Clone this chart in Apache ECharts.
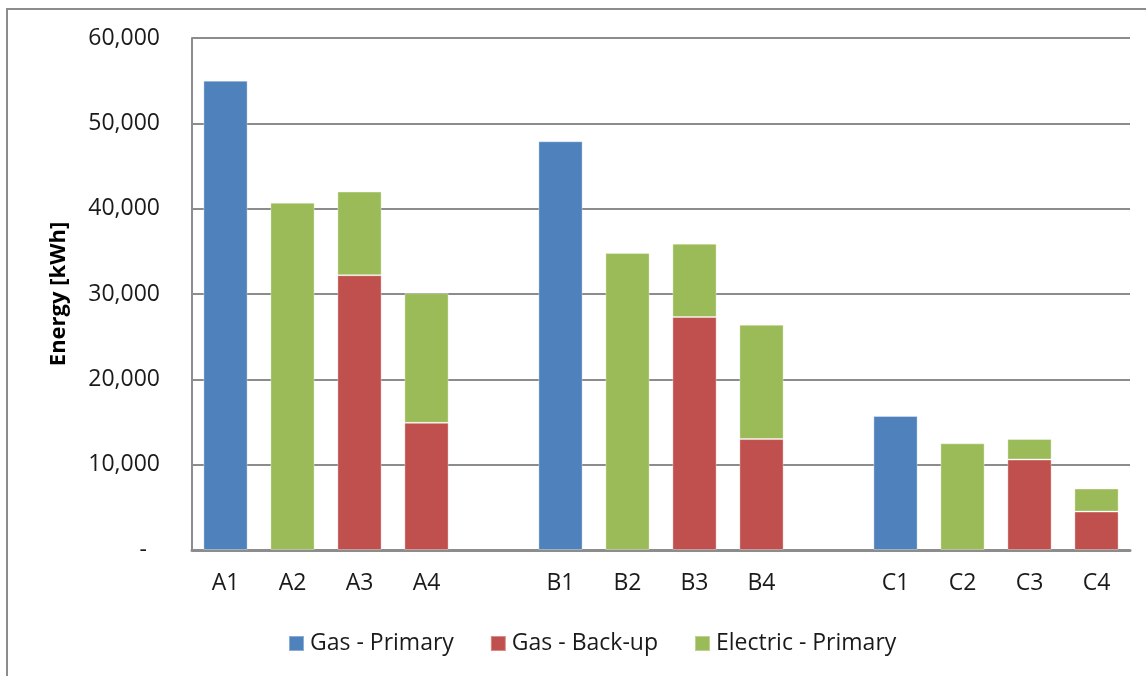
<!DOCTYPE html>
<html>
<head>
<meta charset="utf-8">
<script src="https://cdn.jsdelivr.net/npm/echarts@6/dist/echarts.min.js"></script>
<style>
  html, body { margin: 0; padding: 0; background: #fff; }
  #chart { width: 1146px; height: 676px; }
</style>
</head>
<body>
<div id="chart"></div>
<script>
// Building groups A, B, C with four system variants each; blank slots separate the groups.
const categories = ['A1', 'A2', 'A3', 'A4', '', 'B1', 'B2', 'B3', 'B4', ' ', 'C1', 'C2', 'C3', 'C4'];
const gasPrimary = [55000, null, null, null, null, 47900, null, null, null, null, 15700, null, null, null];
const gasBackup  = [null, null, 32200, 14900, null, null, null, 27300, 13000, null, null, null, 10600, 4500];
const electric   = [null, 40700, 9800, 15200, null, null, 34800, 8600, 13400, null, null, 12500, 2400, 2700];
const yTicks = { min: 0, max: 60000, interval: 10000 };

const FONT = '"Open Sans", "Noto Sans", sans-serif';
const GRID_GREY = '#8c8c8c';
const TEXT = '#1a1a1a';

const chart = echarts.init(document.getElementById('chart'), null, { renderer: 'canvas' });

function barSeries(name, data, color) {
  return {
    name: name,
    type: 'bar',
    stack: 'energy',
    barWidth: '66%',
    data: data,
    itemStyle: { color: color, borderColor: 'rgba(255,255,255,0.35)', borderWidth: 1 },
    emphasis: { disabled: true }
  };
}

chart.setOption({
  animation: false,
  textStyle: { fontFamily: FONT },
  graphic: [{
    type: 'rect',
    shape: { x: 7, y: 9, width: 1300, height: 800 },
    style: { fill: 'none', stroke: GRID_GREY, lineWidth: 2 },
    silent: true
  }],
  grid: { left: 192, top: 38, right: 16, bottom: 126, containLabel: false },
  legend: {
    left: 283,
    top: 627,
    itemWidth: 15,
    itemHeight: 15,
    itemGap: 36,
    icon: 'rect',
    textStyle: { fontFamily: FONT, fontSize: 23, color: TEXT, padding: [0, 0, 0, 1] },
    data: ['Gas - Primary', 'Gas - Back-up', 'Electric - Primary']
  },
  xAxis: {
    type: 'category',
    data: categories,
    axisTick: { show: false },
    axisLine: { lineStyle: { color: GRID_GREY, width: 3 } },
    axisLabel: { fontFamily: FONT, fontSize: 23, color: TEXT, margin: 22 }
  },
  yAxis: {
    type: 'value',
    min: yTicks.min,
    max: yTicks.max,
    interval: yTicks.interval,
    name: 'Energy [kWh]',
    nameLocation: 'middle',
    nameRotate: 90,
    nameGap: 122,
    nameTextStyle: { fontFamily: FONT, fontSize: 22, fontWeight: 'bold', color: '#000' },
    axisLine: { show: true, lineStyle: { color: GRID_GREY, width: 2 } },
    axisTick: { show: false },
    splitLine: { lineStyle: { color: GRID_GREY, width: 2 } },
    axisLabel: {
      fontFamily: FONT,
      fontSize: 23,
      color: TEXT,
      margin: 32,
      formatter: function (v) {
        return v === 0 ? '{z|-}' : v.toLocaleString('en-US');
      },
      rich: {
        z: { fontFamily: FONT, fontSize: 23, color: TEXT, padding: [0, 13, 0, 0] }
      }
    }
  },
  series: [
    barSeries('Gas - Primary', gasPrimary, '#4f81bd'),
    barSeries('Gas - Back-up', gasBackup, '#c0504d'),
    barSeries('Electric - Primary', electric, '#9bbb59')
  ]
});
</script>
</body>
</html>
